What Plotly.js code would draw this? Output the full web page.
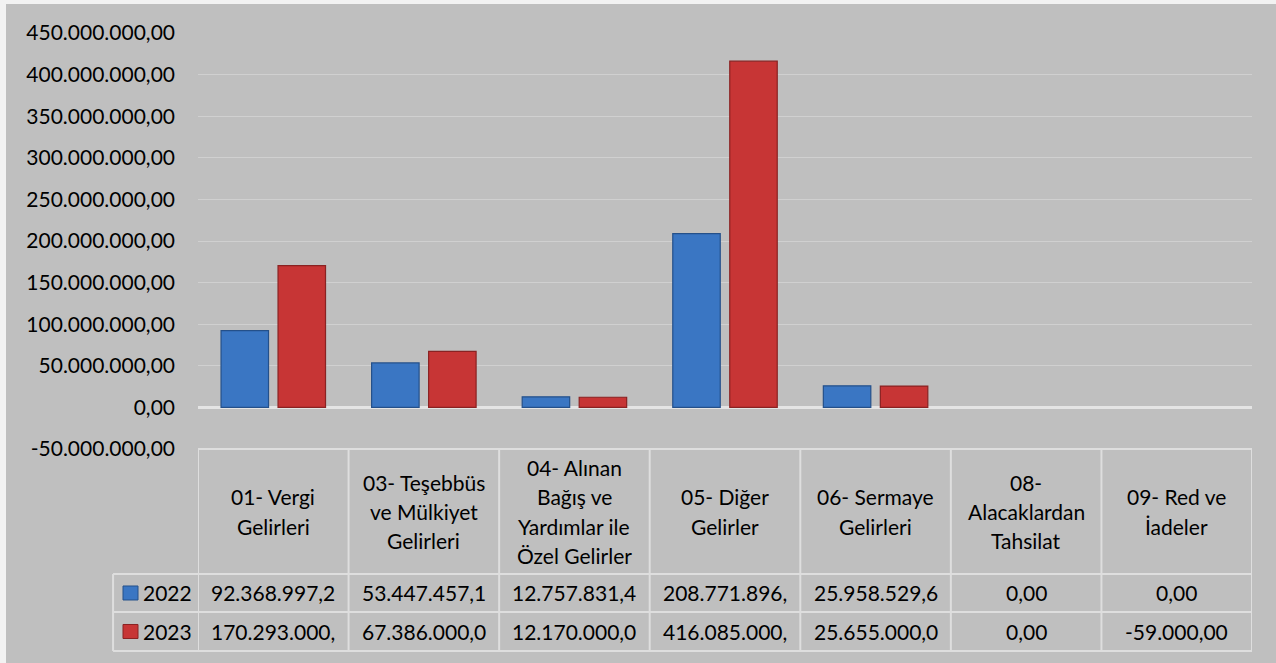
<!DOCTYPE html>
<html>
<head>
<meta charset="utf-8">
<script src="https://cdn.plot.ly/plotly-3.0.1.min.js"></script>
<style>
html,body{margin:0;padding:0;background:#f2f2f2;}
#chart{position:absolute;left:6px;top:4px;width:1270px;height:659px;}
</style>
</head>
<body>
<div id="chart"></div>
<script>
// ---- data ----
const categories = [
  "01- Vergi Gelirleri",
  "03- Teşebbüs ve Mülkiyet Gelirleri",
  "04- Alınan Bağış ve Yardımlar ile Özel Gelirler",
  "05- Diğer Gelirler",
  "06- Sermaye Gelirleri",
  "08- Alacaklardan Tahsilat",
  "09- Red ve İadeler"
];
const headerLabels = [
  "01- Vergi<br>Gelirleri",
  "03- Teşebbüs<br>ve Mülkiyet<br>Gelirleri",
  "04- Alınan<br>Bağış ve<br>Yardımlar ile<br>Özel Gelirler",
  "05- Diğer<br>Gelirler",
  "06- Sermaye<br>Gelirleri",
  "08-<br>Alacaklardan<br>Tahsilat",
  "09- Red ve<br>İadeler"
];
const seriesNames = ["2022", "2023"];
const values2022 = [92368997.2, 53447457.1, 12757831.4, 208771896, 25958529.6, 0, 0];
const values2023 = [170293000, 67386000, 12170000, 416085000, 25655000, 0, -59000];
const tableText2022 = ["92.368.997,2", "53.447.457,1", "12.757.831,4", "208.771.896,", "25.958.529,6", "0,00", "0,00"];
const tableText2023 = ["170.293.000,", "67.386.000,0", "12.170.000,0", "416.085.000,", "25.655.000,0", "0,00", "-59.000,00"];
const yTickVals = [-50000000, 0, 50000000, 100000000, 150000000, 200000000, 250000000, 300000000, 350000000, 400000000, 450000000];
const yTickText = ["-50.000.000,00", "0,00", "50.000.000,00", "100.000.000,00", "150.000.000,00", "200.000.000,00", "250.000.000,00", "300.000.000,00", "350.000.000,00", "400.000.000,00", "450.000.000,00"];

// ---- styles ----
const FONT = "Lato, 'Liberation Sans', sans-serif";
const FS = 21;
const fills = ["#3a76c3", "#c73535"];
const edges = ["#24508a", "#8a2222"];
const gridCol = "#d0d0d0";
const cellLine = "#dedede";
const PLOT_H = 416, PLOT_W = 1054;

const traces = [values2022, values2023].map((vals, i) => ({
  type: "bar",
  name: seriesNames[i],
  x: categories,
  y: vals,
  marker: {color: fills[i], line: {color: edges[i], width: vals.map(v => Math.abs(v) < 1e6 ? 0 : 1.2)}},
  hoverinfo: "skip"
}));

// table geometry in paper coords
const yHeaderTop = 0, yHeaderBot = -0.3005, yRow1Bot = -0.3918, yRow2Bot = -0.4856;
const xLegLeft = -0.0806;
const rowCenters = [(yHeaderBot + yRow1Bot) / 2, (yRow1Bot + yRow2Bot) / 2];
const shapes = [];
const annotations = [];
const n = categories.length;

shapes.push({type: "line", xref: "paper", yref: "paper", x0: 0, x1: 1, y0: yHeaderTop, y1: yHeaderTop, line: {color: cellLine, width: 2}});
[yHeaderBot, yRow1Bot, yRow2Bot].forEach(y => shapes.push({type: "line", xref: "paper", yref: "paper", x0: xLegLeft, x1: 1, y0: y, y1: y, line: {color: cellLine, width: 2}}));
for (let i = 0; i <= n; i++) {
  shapes.push({type: "line", xref: "x", yref: "paper", x0: i - 0.5, x1: i - 0.5, y0: yHeaderTop, y1: yRow2Bot, line: {color: cellLine, width: 2}});
}
shapes.push({type: "line", xref: "paper", yref: "paper", x0: xLegLeft, x1: xLegLeft, y0: yHeaderBot, y1: yRow2Bot, line: {color: cellLine, width: 2}});

// header labels, one annotation per line for Excel-like line spacing
const LINE_PX = 29.3;
const headerCenter = (yHeaderTop + yHeaderBot) / 2;
categories.forEach((c, i) => {
  const lines = headerLabels[i].split("<br>");
  lines.forEach((ln, k) => {
    const offPx = (k - (lines.length - 1) / 2) * LINE_PX;
    annotations.push({xref: "x", yref: "paper", x: c, y: headerCenter - offPx / PLOT_H, text: ln, showarrow: false, xanchor: "center", yanchor: "middle", font: {family: FONT, size: FS, color: "#000"}});
  });
});
[tableText2022, tableText2023].forEach((row, r) => {
  row.forEach((t, i) => {
    annotations.push({xref: "x", yref: "paper", x: categories[i], y: rowCenters[r], text: t, showarrow: false, xanchor: "center", yanchor: "middle", font: {family: FONT, size: FS, color: "#000"}});
  });
  const keyH = 14 / PLOT_H, keyW = 15 / PLOT_W;
  const kx0 = (123 - 198) / PLOT_W;
  shapes.push({type: "rect", xref: "paper", yref: "paper", x0: kx0, x1: kx0 + keyW, y0: rowCenters[r] - keyH / 2, y1: rowCenters[r] + keyH / 2, fillcolor: fills[r], line: {color: edges[r], width: 1}});
  annotations.push({xref: "paper", yref: "paper", x: (141 - 198) / PLOT_W, y: rowCenters[r], text: seriesNames[r], showarrow: false, xanchor: "left", yanchor: "middle", font: {family: FONT, size: FS, color: "#000"}});
});

const layout = {
  width: 1270, height: 659,
  margin: {l: 192, r: 24, t: 29, b: 214, pad: 0},
  paper_bgcolor: "#bfbfbf",
  plot_bgcolor: "#bfbfbf",
  showlegend: false,
  barmode: "group",
  bargap: 0.243,
  bargroupgap: 0.167,
  font: {family: FONT, size: FS, color: "#000"},
  xaxis: {type: "category", range: [-0.5, n - 0.5], showticklabels: false, showgrid: false, zeroline: false, showline: false, ticks: ""},
  yaxis: {
    range: [-50000000, 450000000],
    tickvals: yTickVals, ticktext: yTickText,
    showgrid: true, gridcolor: gridCol, gridwidth: 1,
    zeroline: true, zerolinecolor: "#e4e4e4", zerolinewidth: 2.5,
    showline: false, ticks: "", ticklabelstandoff: 22,
    tickfont: {family: FONT, size: FS, color: "#000"}
  },
  shapes: shapes,
  annotations: annotations
};

Plotly.newPlot("chart", traces, layout, {staticPlot: true, displayModeBar: false});
</script>
</body>
</html>
